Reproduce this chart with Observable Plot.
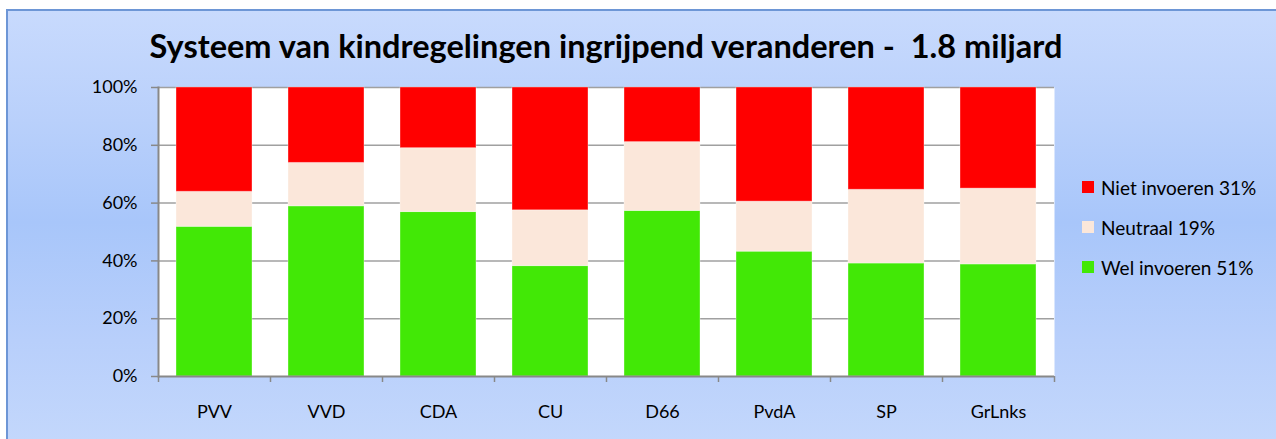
<!DOCTYPE html>
<html>
<head>
<meta charset="utf-8">
<script src="https://cdn.jsdelivr.net/npm/d3@7"></script>
<script src="https://cdn.jsdelivr.net/npm/@observablehq/plot@0.6"></script>
<style>
  html, body { margin: 0; padding: 0; background: #ffffff; overflow: hidden; }
  #wrap { position: relative; width: 1276px; height: 439px; font-family: Lato, "Open Sans", sans-serif; }
  #bg { position: absolute; left: 6px; top: 9px; width: 1290px; height: 440px;
        border-left: 2px solid #6d96d6; border-top: 2px solid #6d96d6;
        background: linear-gradient(to bottom, #c8dafd 0%, #b9d0fb 25%, #a8c6fa 48%, #b8cffb 75%, #c4d8fc 100%); }
  #title { position: absolute; left: 0; width: 1212px; top: 26px; text-align: center;
           font-weight: bold; font-size: 32.5px; color: #000; white-space: pre; }
  #chart { position: absolute; left: 0; top: 0; }
  #legend { position: absolute; left: 1082px; top: 167px; font-size: 19px; color: #000; }
  .item { display: flex; align-items: center; height: 40px; margin-top: 0; white-space: nowrap; }
  .sw { width: 12px; height: 12px; margin-right: 7px; }
</style>
</head>
<body>
<div id="wrap">
  <div id="bg"></div>
  <div id="title"></div>
  <div id="chart"></div>
  <div id="legend"></div>
</div>
<script>
const title = "Systeem van kindregelingen ingrijpend veranderen -  1.8 miljard";
const parties = ["PVV", "VVD", "CDA", "CU", "D66", "PvdA", "SP", "GrLnks"];
const seriesNames = ["Wel invoeren 51%", "Neutraal 19%", "Niet invoeren 31%"];
const welInvoeren   = [0.518, 0.589, 0.569, 0.382, 0.573, 0.432, 0.391, 0.388];
const neutraal      = [0.121, 0.150, 0.221, 0.193, 0.238, 0.173, 0.255, 0.262];
const nietInvoeren  = [0.361, 0.261, 0.210, 0.425, 0.189, 0.395, 0.354, 0.350];
const colors = ["#42e806", "#fbe7da", "#ff0000"];
const yTicks = [0, 0.2, 0.4, 0.6, 0.8, 1.0];

document.getElementById("title").textContent = title;

const seriesValues = [welInvoeren, neutraal, nietInvoeren];
const rows = [];
parties.forEach((p, i) => {
  seriesNames.forEach((s, k) => {
    rows.push({party: p, idx: i, series: s, order: k, value: seriesValues[k][i]});
  });
});

const boundaries = d3.range(parties.length + 1);
const centers = parties.map((p, i) => i + 0.5);

const chart = Plot.plot({
  width: 1276,
  height: 439,
  marginLeft: 158,
  marginRight: 222,
  marginTop: 87,
  marginBottom: 63,
  style: { background: "transparent", fontFamily: "Lato, 'Open Sans', sans-serif", fontSize: "18px", color: "#000", overflow: "visible" },
  x: { type: "linear", domain: [0, parties.length], axis: null, label: null },
  y: { domain: [0, 1], axis: null, label: null },
  color: { domain: seriesNames, range: colors },
  marks: [
    Plot.frame({ fill: "#ffffff", stroke: null }),
    Plot.ruleY(yTicks.slice(1), { stroke: "#a0a0a0", strokeWidth: 1.5 }),
    Plot.rectY(rows, Plot.stackY({
      x1: "idx",
      x2: d => d.idx + 1,
      y: "value",
      fill: "series",
      order: "order",
      insetLeft: 18,
      insetRight: 18,
      stroke: "#ffffff",
      strokeOpacity: 0.35,
      strokeWidth: 1
    })),
    Plot.axisY({ ticks: yTicks, tickFormat: d3.format(".0%"), tickSize: 7, tickPadding: 14, stroke: "#888", strokeWidth: 1.5, fontSize: "18px", label: null }),
    Plot.axisX({ ticks: boundaries, tickFormat: () => "", tickSize: 6, stroke: "#888", strokeWidth: 1.5, label: null }),
    Plot.axisX({ ticks: centers, tickFormat: (d) => parties[Math.round(d - 0.5)], tickSize: 0, tickPadding: 29, fontSize: "18px", label: null }),
    Plot.ruleY([0], { stroke: "#888", strokeWidth: 2 }),
    Plot.frame({ anchor: "left", stroke: "#888", strokeWidth: 2 })
  ]
});
document.getElementById("chart").appendChild(chart);

const legend = document.getElementById("legend");
[2, 1, 0].forEach(k => {
  const item = document.createElement("div");
  item.className = "item";
  const sw = document.createElement("div");
  sw.className = "sw";
  sw.style.background = colors[k];
  const tx = document.createElement("span");
  tx.textContent = seriesNames[k];
  item.appendChild(sw);
  item.appendChild(tx);
  legend.appendChild(item);
});
</script>
</body>
</html>
